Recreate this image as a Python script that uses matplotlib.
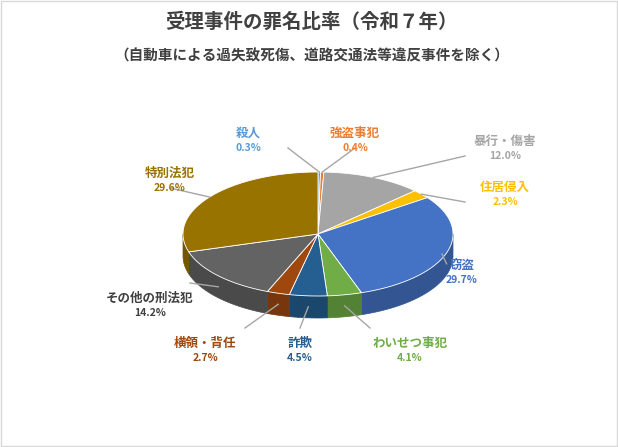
import numpy as np
import matplotlib
matplotlib.use("Agg")
import matplotlib.pyplot as plt
from matplotlib.patches import Polygon
import matplotlib.colors as mc

plt.rcParams['font.family'] = ['Noto Sans CJK JP', 'DejaVu Sans']

labels = ['殺人', '強盗事犯', '暴行・傷害', '住居侵入', '窃盗', 'わいせつ事犯', '詐欺', '横領・背任', 'その他の刑法犯', '特別法犯']
values = [0.3, 0.4, 12.0, 2.3, 29.7, 4.1, 4.5, 2.7, 14.2, 29.6]
colors = ['#5B9BD5', '#ED7D31', '#A5A5A5', '#FFC000', '#4472C4', '#70AD47', '#255E91', '#9E480E', '#636363', '#997300']
label_pos = [(248, 140), (355, 140), (505, 148), (505, 194), (462, 272), (410, 350), (300, 350), (205, 350), (150, 305), (170, 180)]

fig = plt.figure(figsize=(6.18, 4.47), dpi=100)
ax = fig.add_axes([0, 0, 1, 1])
ax.set_xlim(0, 618); ax.set_ylim(447, 0); ax.axis('off')
fig.patch.set_facecolor('white')
fig.add_artist(plt.Rectangle((0.002, 0.002), 0.996, 0.996, transform=fig.transFigure, fill=False, ec='#D9D9D9', lw=1))

cx, cy, rx, ry, d = 318, 234, 135, 62, 22

def pt(t, dy=0):
    return (cx + rx*np.cos(t), cy - ry*np.sin(t) + dy)

total = sum(values)
start = np.pi/2
angs = []
for v in values:
    end = start - 2*np.pi*v/total
    angs.append((start, end))
    start = end

def dark(c, f=0.75):
    r, g, b = mc.to_rgb(c)
    return (r*f, g*f, b*f)

for (a0, a1), c in zip(angs, colors):
    lo, hi = min(a0, a1), max(a0, a1)
    for k in (-1, 0):
        s0 = max(lo, np.pi + 2*np.pi*k); s1 = min(hi, 2*np.pi + 2*np.pi*k)
        if s1 > s0:
            ts = np.linspace(s0, s1, 60)
            top = [pt(t) for t in ts]
            bot = [pt(t, d) for t in ts[::-1]]
            ax.add_patch(Polygon(top + bot, closed=True, fc=dark(c), ec=dark(c), lw=0.5, zorder=1))
for (a0, a1), c in zip(angs, colors):
    ts = np.linspace(a0, a1, 100)
    poly = [(cx, cy)] + [pt(t) for t in ts]
    ax.add_patch(Polygon(poly, closed=True, fc=c, ec='white', lw=0.6, zorder=2))

for (a0, a1), c, lab, v, (lx, ly) in zip(angs, colors, labels, values, label_pos):
    m = (a0 + a1)/2
    px, py = pt(m, d/2 if np.sin(m) < 0 else 0)
    ex = lx + (40 if lx < px else -40) if abs(lx-px) > 60 else lx
    ey = ly + 8 if ly < py else ly - 22
    if lab == '窃盗':
        ex, ey = lx - 20, ly - 18
    ax.plot([px, ex], [py, ey], color='#A6A6A6', lw=1, zorder=3)
    tc = c if lab != 'その他の刑法犯' else '#404040'
    ax.text(lx, ly, lab, color=tc, fontsize=9, fontweight='bold', ha='center', va='bottom', zorder=4)
    ax.text(lx, ly + 3, f'{v:.1f}%', color=tc, fontsize=7.5, fontweight='bold', ha='center', va='top', zorder=4)

ax.text(312, 22, '受理事件の罪名比率（令和７年）', fontsize=14, fontweight='bold', color='#404040', ha='center', va='center')
ax.text(312, 56, '（自動車による過失致死傷、道路交通法等違反事件を除く）', fontsize=10.5, fontweight='bold', color='#404040', ha='center', va='center')

fig.savefig('out.png', dpi=100)
